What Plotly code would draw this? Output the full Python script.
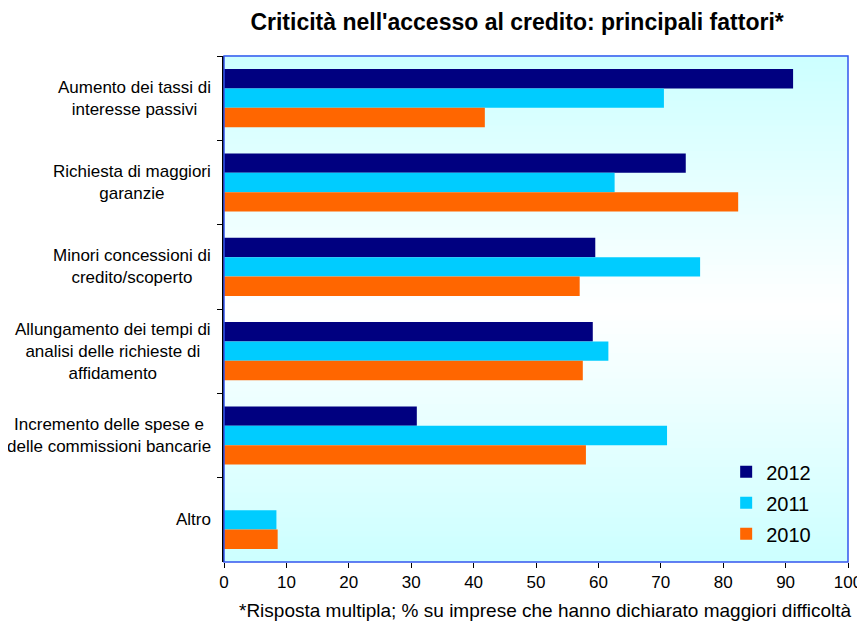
import plotly.graph_objects as go

categories = [
    "Aumento dei tassi di<br>interesse passivi",
    "Richiesta di maggiori<br>garanzie",
    "Minori concessioni di<br>credito/scoperto",
    "Allungamento dei tempi di<br>analisi delle richieste di<br>affidamento",
    "Incremento delle spese e<br>delle commissioni bancarie",
    "Altro",
]
series_names = ["2012", "2011", "2010"]
values_2012 = [91.2, 74.0, 59.5, 59.1, 30.9, None]
values_2011 = [70.5, 62.6, 76.3, 61.6, 71.0, 8.4]
values_2010 = [41.8, 82.4, 57.0, 57.5, 58.0, 8.6]
colors = ["#000080", "#00CCFF", "#FF6600"]
x_ticks = [0, 10, 20, 30, 40, 50, 60, 70, 80, 90, 100]

FONT = "Liberation Sans, Arial, sans-serif"

fig = go.Figure()
for name, vals, col in zip(series_names, [values_2012, values_2011, values_2010], colors):
    fig.add_trace(go.Bar(
        y=categories, x=vals, name=name, orientation="h", legendgroup=name,
        marker=dict(color=col, line=dict(width=0)),
    ))

# gradient background (cyan at edges, white in middle)
shapes = []
n = 80
for i in range(n):
    y0 = i / n
    y1 = (i + 1) / n
    t = abs((y0 + y1) / 2 - 0.5) * 2
    r = int(round(255 - 51 * t))
    shapes.append(dict(type="rect", xref="x domain", yref="y domain",
                       x0=0, x1=1, y0=y0, y1=y1 + 0.002, layer="below",
                       line=dict(width=0), fillcolor=f"rgb({r},255,255)"))
shapes.append(dict(type="rect", xref="x domain", yref="y domain",
                   x0=0, x1=1, y0=0, y1=1, layer="above",
                   line=dict(color="#3355EE", width=1.5), fillcolor="rgba(0,0,0,0)"))

annotations = []
for c in categories:
    annotations.append(dict(x=-0.018, xref="paper", y=c, yref="y", text=c,
                            showarrow=False, xanchor="right", yanchor="middle",
                            align="center", font=dict(family=FONT, size=17, color="#000")))
annotations.append(dict(x=1.01, xref="paper", y=-0.095, yref="paper",
                        text="*Risposta multipla; % su imprese che hanno dichiarato maggiori difficoltà",
                        showarrow=False, xanchor="right", yanchor="middle",
                        font=dict(family=FONT, size=19, color="#000")))

fig.update_layout(
    width=857, height=617,
    margin=dict(l=216, r=17, t=48, b=63, autoexpand=False),
    paper_bgcolor="white", plot_bgcolor="rgba(0,0,0,0)",
    barmode="group", bargap=0.31, bargroupgap=0,
    title=dict(text="<b>Criticità nell'accesso al credito: principali fattori*</b>",
               x=0.594, xanchor="center", y=0.977, yanchor="middle",
               font=dict(family=FONT, size=23, color="#000")),
    font=dict(family=FONT, size=17, color="#000"),
    xaxis=dict(range=[0, 100], tickvals=x_ticks, ticks="outside", ticklen=5,
               tickcolor="#000", showgrid=False, zeroline=False,
               showline=False, tickfont=dict(family=FONT, size=17, color="#000")),
    yaxis=dict(autorange="reversed", showticklabels=False, ticks="outside",
               tickson="boundaries", ticklen=5, tickcolor="#000",
               showline=True, linecolor="#000", linewidth=1.5,
               showgrid=False, zeroline=False),
    legend=dict(x=0.838, y=0.280, xref="container", yref="container",
                xanchor="left", yanchor="top",
                bgcolor="rgba(0,0,0,0)", font=dict(family=FONT, size=20, color="#000"),
                traceorder="grouped", itemwidth=30, tracegroupgap=2),
    shapes=shapes,
    annotations=annotations,
)

fig.write_html("out.html")
